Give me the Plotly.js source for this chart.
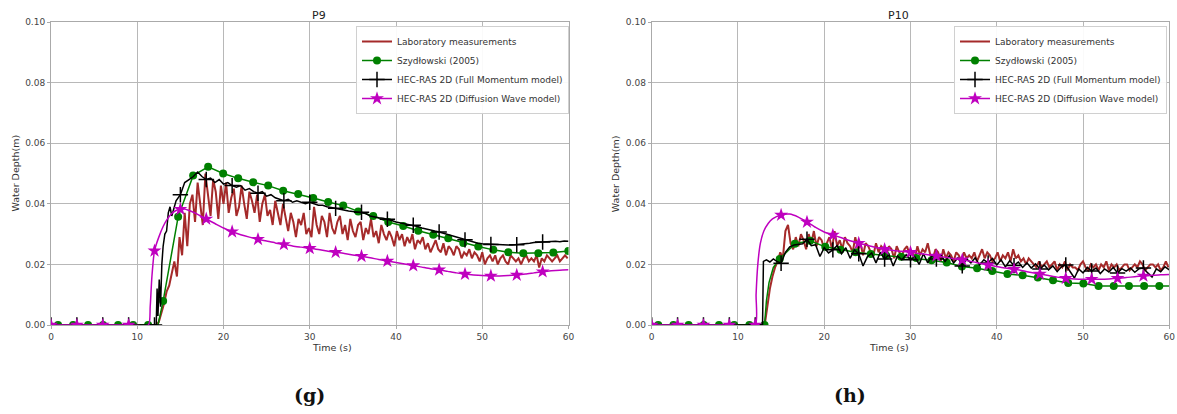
<!DOCTYPE html>
<html><head><meta charset="utf-8">
<script src="https://cdn.plot.ly/plotly-3.0.1.min.js"></script>
<style>html,body{margin:0;padding:0;background:#fff}#chart{width:1177px;height:414px}</style>
</head><body><div id="chart"></div>
<script>
// ---------------- DATA ----------------
const seriesNames = ['Laboratory measurements','Szydłowski (2005)','HEC-RAS 2D (Full Momentum model)','HEC-RAS 2D (Diffusion Wave model)'];
const panelTitles = ['P9','P10'];
const panelLetters = ['(g)','(h)'];
const xTickVals = [0,10,20,30,40,50,60];
const yTickVals = [0,0.02,0.04,0.06,0.08,0.10];

// ---- P9 ----
// Laboratory measurements: sampled every 0.3 s from 12.2 s (zero before)
const p9LabStart = 12.2, p9LabStep = 0.3;
const p9LabDepth = [
0.000,0.001,0.004,0.007,0.011,0.013,0.017,0.021,0.016,0.029,
0.023,0.037,0.026,0.040,0.043,0.034,0.047,0.039,0.033,0.050,
0.042,0.036,0.048,0.044,0.035,0.046,0.040,0.047,0.037,0.042,
0.045,0.036,0.039,0.046,0.040,0.035,0.044,0.041,0.037,0.043,
0.034,0.040,0.043,0.036,0.038,0.033,0.041,0.037,0.033,0.040,
0.036,0.031,0.037,0.034,0.029,0.035,0.033,0.037,0.030,0.032,
0.029,0.039,0.033,0.030,0.036,0.034,0.029,0.037,0.032,0.030,
0.034,0.036,0.030,0.033,0.028,0.035,0.031,0.029,0.033,0.034,
0.028,0.032,0.030,0.035,0.029,0.031,0.027,0.033,0.030,0.028,
0.031,0.029,0.026,0.031,0.028,0.030,0.026,0.029,0.027,0.030,
0.025,0.028,0.027,0.029,0.025,0.027,0.024,0.026,0.028,0.025,
0.024,0.027,0.023,0.026,0.025,0.023,0.026,0.025,0.022,0.024,
0.023,0.025,0.022,0.024,0.023,0.021,0.024,0.020,0.022,0.023,
0.021,0.023,0.020,0.022,0.023,0.021,0.020,0.023,0.022,0.021,
0.022,0.020,0.022,0.023,0.021,0.022,0.021,0.023,0.019,0.022,
0.021,0.023,0.022,0.021,0.022,0.023,0.021,0.022,0.023,0.022];
// Szydłowski (2005): points at the markers, plus onset point
const p9SzTime = [0.82,2.56,4.30,6.04,7.78,9.52,11.26,13.00,14.74,16.48,18.22,19.96,21.70,23.44,25.18,26.92,28.66,30.40,32.14,33.88,35.62,37.36,39.10,40.84,42.58,44.32,46.06,47.80,49.54,51.28,53.02,54.76,56.50,58.24,59.98];
const p9SzDepth = [0,0,0,0,0,0,0,0.0079,0.0357,0.0493,0.0522,0.0500,0.0484,0.0471,0.0460,0.0443,0.0432,0.0419,0.0406,0.0394,0.0375,0.0360,0.0340,0.0327,0.0311,0.0298,0.0286,0.0271,0.0259,0.0248,0.0240,0.0237,0.0237,0.0239,0.0244];
const p9SzExtraTime = [12.4];
const p9SzExtraDepth = [0];
// HEC-RAS Full Momentum: early explicit points, then every 0.5 s from 15 s
const p9FmEarlyTime = [0,3,6,9,12,12.2,12.3,12.4,12.55,12.7,12.85,13.0,13.2,13.4,13.6,13.8,14.0,14.2,14.5];
const p9FmEarlyDepth = [0,0,0,0,0,0,0.012,0.003,0.015,0.006,0.020,0.026,0.030,0.031,0.037,0.039,0.036,0.038,0.041];
const p9FmStart = 15.0, p9FmStep = 0.5;
const p9FmDepth = [
0.043,0.047,0.048,0.049,0.0505,0.049,0.048,0.0485,0.047,0.048,
0.0465,0.047,0.046,0.0455,0.046,0.0445,0.045,0.044,0.0435,0.044,
0.0425,0.043,0.042,0.0415,0.041,0.0415,0.0405,0.041,0.0405,0.040,
0.0405,0.040,0.0395,0.0395,0.039,0.0388,0.0385,0.038,0.0378,0.0376,
0.0375,0.0373,0.0372,0.0368,0.036,0.0356,0.0354,0.0352,0.0349,0.0345,
0.034,0.0337,0.0334,0.0331,0.0329,0.0325,0.032,0.0316,0.0312,0.031,
0.0307,0.0303,0.0298,0.0294,0.029,0.0285,0.0281,0.0277,0.0273,0.027,
0.0268,0.0267,0.0266,0.0265,0.0264,0.0264,0.0264,0.0264,0.0265,0.0267,
0.0268,0.027,0.0272,0.0273,0.0274,0.0274,0.0275,0.0276,0.0275,0.0277,
0.0276];
// HEC-RAS Diffusion Wave
const p9DwTime = [0,3,6,9,11.3,11.5,11.7,12,12.5,13,13.5,14,14.5,15,15.5,16,16.5,17,18,19,20,21,22,23,24,25,26,27,28,29,30,31,32,33,34,35,36,37,38,39,40,41,42,43,44,45,46,47,48,49,50,51,52,53,54,55,56,57,58,59,60];
const p9DwDepth = [0,0,0,0,0,0.006,0.016,0.0245,0.029,0.0325,0.035,0.0368,0.0378,0.0382,0.0383,0.0378,0.0372,0.0365,
0.035,0.0335,0.032,0.0308,0.0298,0.029,0.0283,0.0277,0.0271,0.0266,0.0261,0.0257,0.0253,0.0249,0.0244,0.024,0.0236,0.0231,0.0227,0.0222,
0.0216,0.0211,0.0206,0.0201,0.0196,0.0191,0.0186,0.0182,0.0177,0.0172,0.0168,0.0165,0.0163,0.0162,0.0162,0.0163,0.0165,0.0168,0.0172,0.0176,
0.0179,0.0181,0.0182];

// ---- P10 ----
const p10LabStart = 13.1, p10LabStep = 0.3;
const p10LabDepth = [
0.000,0.006,0.012,0.016,0.019,0.021,0.024,0.022,0.031,0.033,
0.027,0.025,0.029,0.026,0.030,0.028,0.025,0.030,0.027,0.031,
0.026,0.029,0.028,0.025,0.027,0.029,0.025,0.031,0.026,0.028,
0.025,0.029,0.027,0.026,0.024,0.029,0.025,0.027,0.023,0.027,
0.026,0.024,0.023,0.027,0.024,0.026,0.025,0.023,0.026,0.025,
0.022,0.026,0.024,0.023,0.025,0.026,0.023,0.024,0.022,0.026,
0.023,0.025,0.024,0.027,0.023,0.022,0.025,0.024,0.021,0.025,
0.022,0.024,0.023,0.021,0.024,0.023,0.021,0.024,0.022,0.023,
0.022,0.024,0.021,0.023,0.025,0.022,0.024,0.023,0.021,0.022,
0.024,0.021,0.023,0.022,0.024,0.021,0.025,0.022,0.023,0.021,
0.022,0.020,0.022,0.021,0.020,0.019,0.021,0.019,0.020,0.021,
0.019,0.020,0.021,0.018,0.020,0.019,0.021,0.018,0.020,0.019,
0.019,0.018,0.020,0.021,0.019,0.018,0.020,0.019,0.020,0.018,
0.020,0.019,0.021,0.018,0.020,0.019,0.020,0.018,0.019,0.020,
0.020,0.018,0.019,0.020,0.019,0.021,0.020,0.018,0.019,0.020,
0.020,0.019,0.020,0.018,0.019,0.021,0.019];
const p10SzTime = [0.76,2.52,4.28,6.04,7.80,9.56,11.32,13.08,14.84,16.60,18.36,20.12,21.88,23.64,25.40,27.16,28.92,30.68,32.44,34.20,35.96,37.72,39.48,41.24,43.00,44.76,46.52,48.28,50.04,51.80,53.56,55.32,57.08,58.84];
const p10SzDepth = [0,0,0,0,0,0,0,0,0.0218,0.0268,0.0278,0.0258,0.0248,0.0240,0.0234,0.0229,0.0225,0.0221,0.0214,0.0206,0.0193,0.0187,0.0178,0.0168,0.0164,0.0157,0.0148,0.0139,0.0137,0.0129,0.0129,0.0129,0.0129,0.0129];
const p10SzExtraTime = [13.3,13.6,14.1,60];
const p10SzExtraDepth = [0.008,0.014,0.019,0.0129];
const p10FmEarlyTime = [0,3,6,9,12,12.85,12.95,13.3,13.7,14.1,14.5];
const p10FmEarlyDepth = [0,0,0,0,0,0,0.021,0.0215,0.0208,0.0218,0.021];
const p10FmStart = 15.0, p10FmStep = 0.5;
const p10FmDepth = [
0.0204,0.024,0.0258,0.0264,0.0265,0.0268,0.0283,0.0262,0.0265,0.0226,
0.0255,0.0238,0.0248,0.0262,0.0235,0.0255,0.022,0.0248,0.0235,0.0195,
0.0225,0.0238,0.0205,0.024,0.0218,0.0232,0.0195,0.0228,0.0215,0.0232,
0.0215,0.0226,0.0200,0.0235,0.0205,0.023,0.0218,0.0232,0.021,0.0228,
0.0205,0.0222,0.0195,0.0218,0.0205,0.0222,0.0198,0.0215,0.0205,0.022,
0.0198,0.0215,0.0192,0.0212,0.0196,0.0208,0.019,0.0205,0.0188,0.0202,
0.0185,0.0198,0.0182,0.0195,0.0176,0.0192,0.0198,0.0178,0.0155,0.0185,
0.0172,0.019,0.0178,0.0188,0.017,0.0185,0.0175,0.019,0.0172,0.0186,
0.0178,0.0188,0.0174,0.0186,0.0188,0.0172,0.0158,0.0185,0.0176,0.0192,
0.0182];
const p10DwTime = [0,3,6,9,12,12.1,12.3,12.6,13,13.5,14,15,16,17,18,19,20,21,22,23,24,25,26,27,28,29,30,31,32,33,34,35,36,37,38,39,40,41,42,43,44,45,46,47,48,49,50,51,52,53,54,55,56,57,58,59,60];
const p10DwDepth = [0,0,0,0,0,0.010,0.020,0.027,0.031,0.0335,0.035,
0.0363,0.0366,0.0356,0.034,0.0322,0.0307,0.0297,0.0288,0.0278,0.027,0.0263,0.0256,0.025,0.0246,0.0243,0.024,0.0236,0.0232,0.0228,0.0224,0.0219,
0.0215,0.021,0.0204,0.0198,0.0193,0.0188,0.0184,0.0179,0.0173,0.0168,0.0163,0.0158,0.0154,0.0152,0.0151,0.0151,0.0151,0.0152,0.0154,0.0157,
0.0159,0.0162,0.0164,0.0166,0.0167];

// ---------------- BUILD ----------------
const COL = {lab:'#a52a2a', sz:'#008000', fm:'#000000', dw:'#bf00bf'};
function regular(start, step, vals){ return vals.map((v,i)=>+(start+i*step).toFixed(4)); }
function merge(t1,v1,t2,v2){
  const pts = t1.map((t,i)=>[t,v1[i]]).concat(t2.map((t,i)=>[t,v2[i]]));
  pts.sort((a,b)=>a[0]-b[0]);
  return [pts.map(p=>p[0]), pts.map(p=>p[1])];
}
function every3(t,v){
  const xs=[],ys=[];
  t.forEach((x,i)=>{ if (Math.abs(x/3-Math.round(x/3))<1e-6 && x<59.5){xs.push(x);ys.push(v[i]);} });
  return [xs,ys];
}
const panels = [
  {lab:[p9LabStart,p9LabStep,p9LabDepth], sz:[p9SzTime,p9SzDepth,p9SzExtraTime,p9SzExtraDepth],
   fm:[p9FmEarlyTime,p9FmEarlyDepth,p9FmStart,p9FmStep,p9FmDepth], dw:[p9DwTime,p9DwDepth]},
  {lab:[p10LabStart,p10LabStep,p10LabDepth], sz:[p10SzTime,p10SzDepth,p10SzExtraTime,p10SzExtraDepth],
   fm:[p10FmEarlyTime,p10FmEarlyDepth,p10FmStart,p10FmStep,p10FmDepth], dw:[p10DwTime,p10DwDepth]}
];
const markerStyles = {
  sz:{symbol:'circle', size:8, color:COL.sz},
  fm:{symbol:'cross-thin', size:11, color:COL.fm, line:{width:1.5,color:COL.fm}},
  dw:{symbol:'star', size:10.5, color:COL.dw, line:{width:0}}
};
const traces = [];
panels.forEach((p,k)=>{
  const xa = k===0?'x':'x2', ya = k===0?'y':'y2', lg = k===0?'legend':'legend2';
  // legend-only entries
  [['lab',null],['sz','sz'],['fm','fm'],['dw','dw']].forEach(([key,mk],j)=>{
    const tr = {x:[null], y:[null], xaxis:xa, yaxis:ya, legend:lg, name:seriesNames[j], type:'scatter',
      mode: mk?'lines+markers':'lines', line:{color:COL[key], width: key==='lab'?2:1.5}, hoverinfo:'skip'};
    if (mk) tr.marker = markerStyles[mk];
    traces.push(tr);
  });
  // lab
  const labT = [0].concat(regular(p.lab[0],p.lab[1],p.lab[2]));
  const labV = [0].concat(p.lab[2]);
  traces.push({x:labT,y:labV,xaxis:xa,yaxis:ya,mode:'lines',line:{color:COL.lab,width:2},showlegend:false});
  // szydlowski
  const [szT,szV] = merge(p.sz[0],p.sz[1],p.sz[2],p.sz[3]);
  traces.push({x:szT,y:szV,xaxis:xa,yaxis:ya,mode:'lines',line:{color:COL.sz,width:1.5},showlegend:false});
  traces.push({x:p.sz[0],y:p.sz[1],xaxis:xa,yaxis:ya,mode:'markers',marker:markerStyles.sz,showlegend:false});
  // full momentum
  const fmT = p.fm[0].concat(regular(p.fm[2],p.fm[3],p.fm[4]));
  const fmV = p.fm[1].concat(p.fm[4]);
  traces.push({x:fmT,y:fmV,xaxis:xa,yaxis:ya,mode:'lines',line:{color:COL.fm,width:1.5},showlegend:false});
  const [fmMT,fmMV] = every3(fmT,fmV);
  traces.push({x:fmMT,y:fmMV,xaxis:xa,yaxis:ya,mode:'markers',marker:markerStyles.fm,showlegend:false});
  // diffusion wave
  traces.push({x:p.dw[0],y:p.dw[1],xaxis:xa,yaxis:ya,mode:'lines',line:{color:COL.dw,width:1.5,shape:'spline',smoothing:0.6},showlegend:false});
  const [dwMT,dwMV] = every3(p.dw[0],p.dw[1]);
  traces.push({x:dwMT,y:dwMV,xaxis:xa,yaxis:ya,mode:'markers',marker:markerStyles.dw,showlegend:false});
});

const W=1177,H=414;
const plotY0 = 325, plotY1 = 22; // pixel rows of y=0 and y=0.10
const dom = [[51,568.5],[651.7,1169.3]];
const ydom = [(H-plotY0)/H, (H-plotY1)/H];
const tickFont = {family:'DejaVu Sans', size:9, color:'#444'};
function xaxis(d){ return {domain:[d[0]/W,d[1]/W], range:[0,60], tickvals:xTickVals, ticktext:xTickVals.map(String),
  showgrid:true, gridcolor:'#b8b8b8', gridwidth:1, zeroline:false, showline:true, linecolor:'#aaa', linewidth:1, mirror:true,
  ticks:'outside', ticklen:3, tickcolor:'#aaa', tickfont:tickFont, fixedrange:true}; }
function yaxis(anchor){ return {domain:ydom, range:[0,0.1], tickvals:yTickVals, ticktext:yTickVals.map(v=>v.toFixed(2)), anchor:anchor,
  showgrid:true, gridcolor:'#b8b8b8', gridwidth:1, zeroline:false, showline:true, linecolor:'#aaa', linewidth:1, mirror:true,
  ticks:'outside', ticklen:3, tickcolor:'#aaa', tickfont:tickFont, fixedrange:true}; }
const legendBase = {xanchor:'right', yanchor:'top', y:(H-26)/H, bgcolor:'rgba(255,255,255,0.92)', bordercolor:'#d0d0d0', borderwidth:1,
  font:{family:'DejaVu Sans', size:9, color:'#333'}, tracegroupgap:0, itemwidth:30};
const ann = [];
dom.forEach((d,k)=>{
  const cx = (d[0]+d[1])/2/W;
  ann.push({text:panelTitles[k], x:cx, y:(H-15)/H, xref:'paper', yref:'paper', showarrow:false, font:{family:'DejaVu Sans',size:11,color:'#222'}, yanchor:'middle'});
  ann.push({text:'Time (s)', x:cx, y:(H-347)/H, xref:'paper', yref:'paper', showarrow:false, font:{family:'DejaVu Sans',size:9.5,color:'#333'}, yanchor:'middle'});
  ann.push({text:'Water Depth(m)', x:(d[0]-36)/W, y:(H-173.5)/H, xref:'paper', yref:'paper', showarrow:false, textangle:-90, font:{family:'DejaVu Sans',size:9.5,color:'#333'}, xanchor:'center', yanchor:'middle'});
  ann.push({text:'<b>'+panelLetters[k]+'</b>', x:(k===0?292:868)/W, y:(H-395)/H, xref:'paper', yref:'paper', showarrow:false, font:{family:'DejaVu Serif',size:19,color:'#111'}, yanchor:'middle'});
});
const layout = {
  width:W, height:H, margin:{l:0,r:0,t:0,b:0}, paper_bgcolor:'#fff', plot_bgcolor:'#fff', showlegend:true,
  xaxis:Object.assign(xaxis(dom[0]),{anchor:'y'}), yaxis:yaxis('x'),
  xaxis2:Object.assign(xaxis(dom[1]),{anchor:'y2'}), yaxis2:yaxis('x2'),
  legend:Object.assign({}, legendBase, {x:569/W}),
  legend2:Object.assign({}, legendBase, {x:1167/W}),
  annotations:ann
};
Plotly.newPlot('chart', traces, layout, {staticPlot:true, displayModeBar:false});
</script></body></html>
